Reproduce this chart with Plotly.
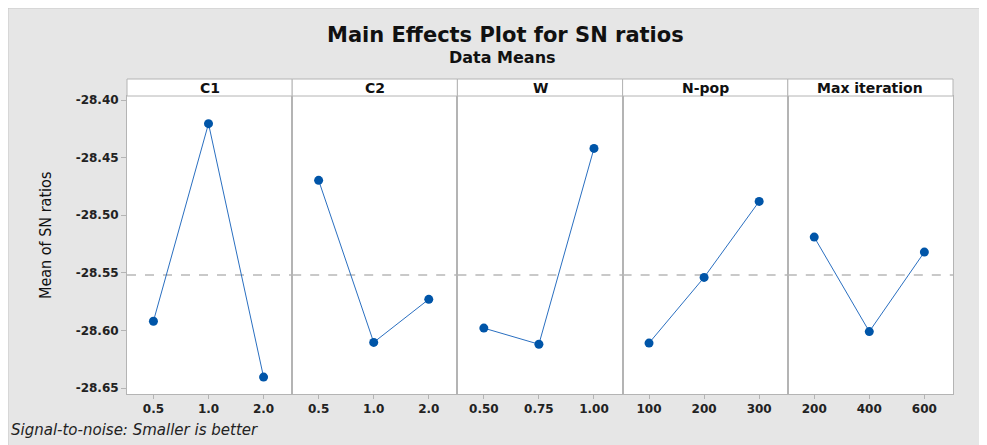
import plotly.graph_objects as go
from plotly.subplots import make_subplots

factors = ["C1", "C2", "W", "N-pop", "Max iteration"]
level_labels = [
    ["0.5", "1.0", "2.0"],
    ["0.5", "1.0", "2.0"],
    ["0.50", "0.75", "1.00"],
    ["100", "200", "300"],
    ["200", "400", "600"],
]
sn_c1 = [-28.592, -28.4205, -28.6405]
sn_c2 = [-28.4697, -28.6104, -28.573]
sn_w = [-28.598, -28.612, -28.442]
sn_npop = [-28.611, -28.554, -28.488]
sn_maxit = [-28.519, -28.601, -28.532]
series = [sn_c1, sn_c2, sn_w, sn_npop, sn_maxit]
grand_mean = -28.552
y_ticks = [-28.40, -28.45, -28.50, -28.55, -28.60, -28.65]

# page body has an 8px margin, so the figure is offset by 8px
OFF = 8
W, H = 987 - OFF, 445 - OFF
ml, mr, mt, mb = 127 - OFF, 34, 96 - OFF, 51
pw = W - ml - mr
plot_h = H - mt - mb
strip_h = 17


def px_x(x):
    return (x - OFF - ml) / pw


def px_y(y):
    return (H - mb - (y - OFF)) / plot_h


FONT = "DejaVu Sans"
fig = make_subplots(rows=1, cols=5, shared_yaxes=True, horizontal_spacing=0)

tick_font = dict(family=FONT, size=12, color="#222222", weight=700)
for i, (vals, labs) in enumerate(zip(series, level_labels), start=1):
    xs = list(range(len(vals)))
    fig.add_trace(go.Scatter(
        x=[-0.48, 2.52], y=[grand_mean, grand_mean], mode="lines",
        line=dict(color="#b8b8b8", width=1.5, dash="dash"),
        showlegend=False, hoverinfo="skip"), row=1, col=i)
    fig.add_trace(go.Scatter(
        x=xs, y=vals, mode="lines+markers",
        line=dict(color="#2a6fc0", width=1),
        marker=dict(color="#0055a8", size=9, symbol="circle"),
        showlegend=False, hoverinfo="x+y"), row=1, col=i)
    fig.update_xaxes(row=1, col=i, range=[-0.48, 2.52], tickvals=xs, ticktext=labs,
                     showgrid=False, zeroline=False, showline=True, mirror=True,
                     linecolor="#b4b4b4", linewidth=1, ticks="outside", ticklen=4,
                     tickcolor="#b4b4b4", tickfont=tick_font)
    fig.update_yaxes(row=1, col=i, range=[-28.6552, -28.3965], showgrid=False,
                     zeroline=False, showline=True, mirror=True,
                     linecolor="#b4b4b4", linewidth=1)
    xd = "x domain" if i == 1 else f"x{i} domain"
    fig.add_shape(type="rect", xref=xd, yref="y domain", x0=0, x1=1,
                  y0=1, y1=1 + strip_h / plot_h, fillcolor="white",
                  line=dict(color="#b4b4b4", width=1), layer="above")
    fig.add_annotation(text=factors[i - 1], xref=xd, yref="y domain", x=0.5,
                       y=1 + strip_h / plot_h / 2, showarrow=False, yanchor="middle",
                       font=dict(family=FONT, size=14, color="#111111", weight=700))

fig.update_yaxes(row=1, col=1, tickvals=y_ticks,
                 ticktext=[f"{v:.2f}" for v in y_ticks],
                 ticks="outside", ticklen=5, tickcolor="#b4b4b4", tickfont=tick_font)

fig.add_annotation(text="Main Effects Plot for SN ratios", xref="paper", yref="paper",
                   x=px_x(505), y=px_y(35), showarrow=False, yanchor="middle",
                   font=dict(family=FONT, size=21, color="#111111", weight=700))
fig.add_annotation(text="Data Means", xref="paper", yref="paper",
                   x=px_x(502), y=px_y(57), showarrow=False, yanchor="middle",
                   font=dict(family=FONT, size=16, color="#111111", weight=700))
fig.add_annotation(text="Mean of SN ratios", xref="paper", yref="paper",
                   x=px_x(45), y=px_y(236), showarrow=False, textangle=-90,
                   xanchor="center", yanchor="middle",
                   font=dict(family="DejaVu Sans Condensed, Liberation Sans", size=16,
                             color="#111111"))
fig.add_annotation(text="<i>Signal-to-noise: Smaller is better</i>", xref="paper",
                   yref="paper", x=px_x(9), y=px_y(430),
                   xanchor="left", yanchor="middle", showarrow=False,
                   font=dict(family=FONT, size=15, color="#222222"))

fig.add_shape(type="rect", xref="paper", yref="paper",
              x0=-ml / pw, x1=1 + mr / pw + 0.01, y0=-mb / plot_h - 0.01,
              y1=1 + mt / plot_h, line=dict(color="#c8c8c8", width=1),
              fillcolor="rgba(0,0,0,0)", layer="below")

fig.update_layout(width=W, height=H, margin=dict(l=ml, r=mr, t=mt, b=mb),
                  paper_bgcolor="#e6e6e6", plot_bgcolor="white")
fig.write_html("out.html")
